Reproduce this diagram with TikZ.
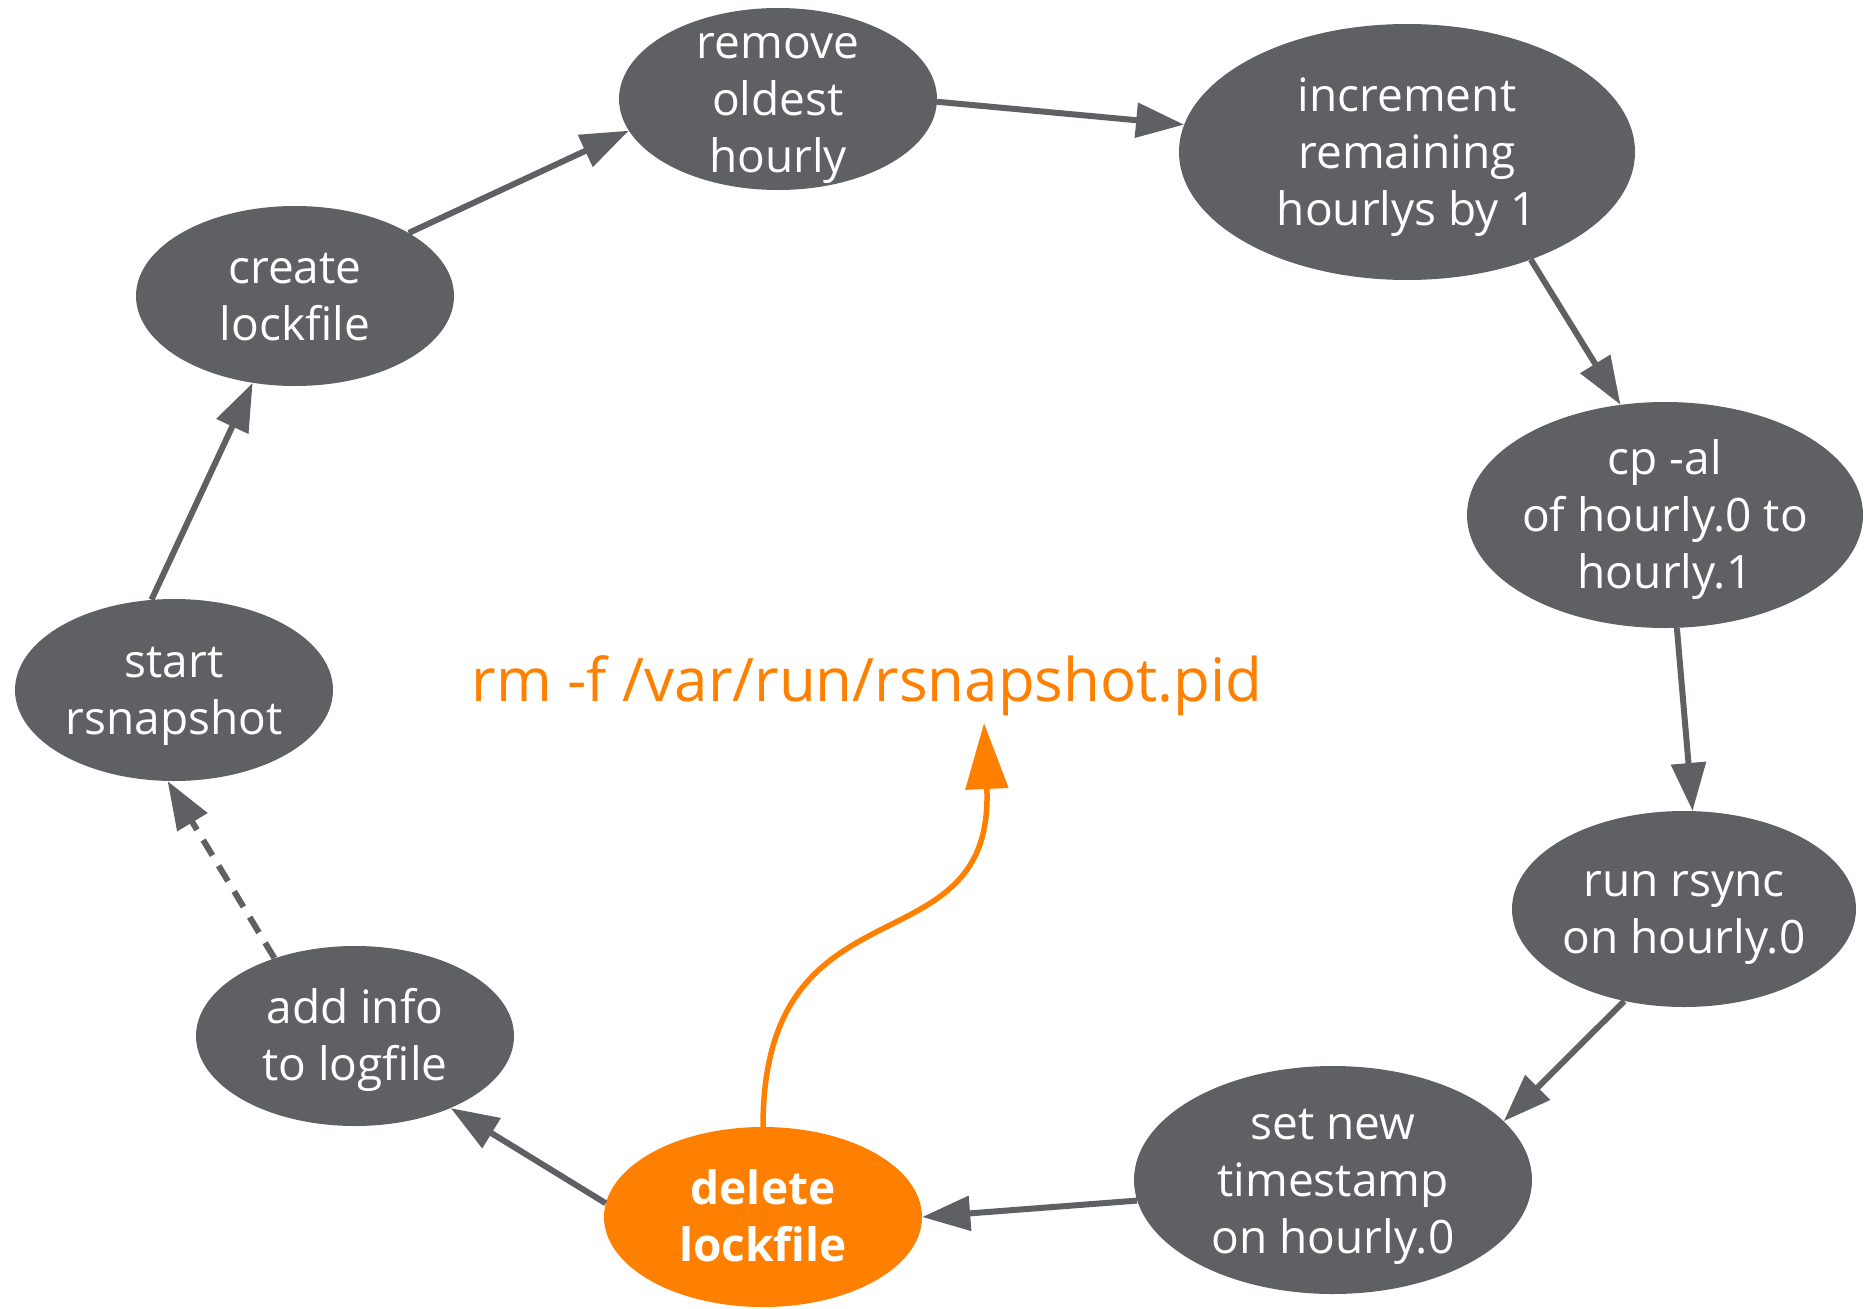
\documentclass[tikz,border=0pt]{standalone}
\usepackage{fontspec}
\setmainfont{Open Sans}
\usetikzlibrary{arrows.meta,shapes.geometric}
\definecolor{stepgray}{RGB}{95,96,100}
\definecolor{hiorange}{RGB}{255,128,0}
\tikzset{
  stepbox/.style={ellipse, fill=stepgray, draw=none, text=white, align=center,
    inner sep=-80pt, font=\fontsize{46}{57}\selectfont},
  % fixed text extents so the lines sit centred in the ellipse
  threeline/.style={stepbox, text height=146pt, text depth=0pt},
  twoline/.style={stepbox, text height=89pt, text depth=0pt},
  flow/.style={draw=stepgray, line width=6pt,
    -{Triangle[length=48pt,width=34pt]}},
  loopback/.style={flow, dash pattern=on 18pt off 12pt},
  pidarrow/.style={draw=hiorange, line width=5.5pt,
    -{Triangle[length=66pt,width=42pt]}},
}
\begin{document}
\begin{tikzpicture}[x=1pt,y=-1pt]
\useasboundingbox (0,0) rectangle (1864,1309);

% the steps of one rsnapshot run
\node[threeline, minimum width=318pt, minimum height=182pt] (remove)  at (778,99)    {remove\\oldest\\hourly};
\node[threeline, minimum width=456pt, minimum height=256pt] (incr)    at (1407,152)  {increment\\remaining\\hourlys by 1};
\node[threeline, minimum width=396pt, minimum height=226pt] (cpal)    at (1665,515)  {cp -al\\of hourly.0 to\\hourly.1};
\node[twoline,   minimum width=344pt, minimum height=196pt] (rsync)   at (1684,909)  {run rsync\\on hourly.0};
\node[threeline, minimum width=398pt, minimum height=228pt] (stamp)   at (1333,1180) {set new\\timestamp\\on hourly.0};
\node[twoline, fill=hiorange, font=\fontsize{46}{57}\selectfont\bfseries,
      minimum width=318pt, minimum height=180pt] (dellock) at (763,1217) {delete\\lockfile};
\node[twoline,   minimum width=318pt, minimum height=180pt] (loginfo) at (355,1036)  {add info\\to logfile};
\node[twoline,   minimum width=318pt, minimum height=182pt] (start)   at (174,690)   {start\\rsnapshot};
\node[twoline,   minimum width=318pt, minimum height=180pt] (mklock)  at (295,296)   {create\\lockfile};

% the command that deleting the lockfile stands for
\node[anchor=base, text=hiorange, inner sep=0pt, font=\fontsize{60}{72}\selectfont]
  (pid) at (867,701) {rm -f /var/run/rsnapshot.pid};
\coordinate (pidtip) at (984,723);

% transitions
\draw[flow] (start.104.6) -- (mklock.244.2);
\draw[flow] (mklock.29.3) -- (remove.192.6);
\draw[flow] (remove.-1.4) -- (incr.173.8);
\draw[flow] (incr.-41.3) -- (cpal.112.8);
\draw[flow] (cpal.-84) -- (rsync.85.4);
\draw[flow] (rsync.237.2) -- (stamp.19.2);
\draw[flow] (stamp.186.9) -- (dellock.0);
\draw[flow] (dellock.175.3) -- (loginfo.-37.7);
\draw[loopback] (loginfo.136.8) -- (start.266.9);

\draw[pidarrow] (dellock.90) .. controls (763,870) and (995,975) .. (pidtip);
\end{tikzpicture}
\end{document}
